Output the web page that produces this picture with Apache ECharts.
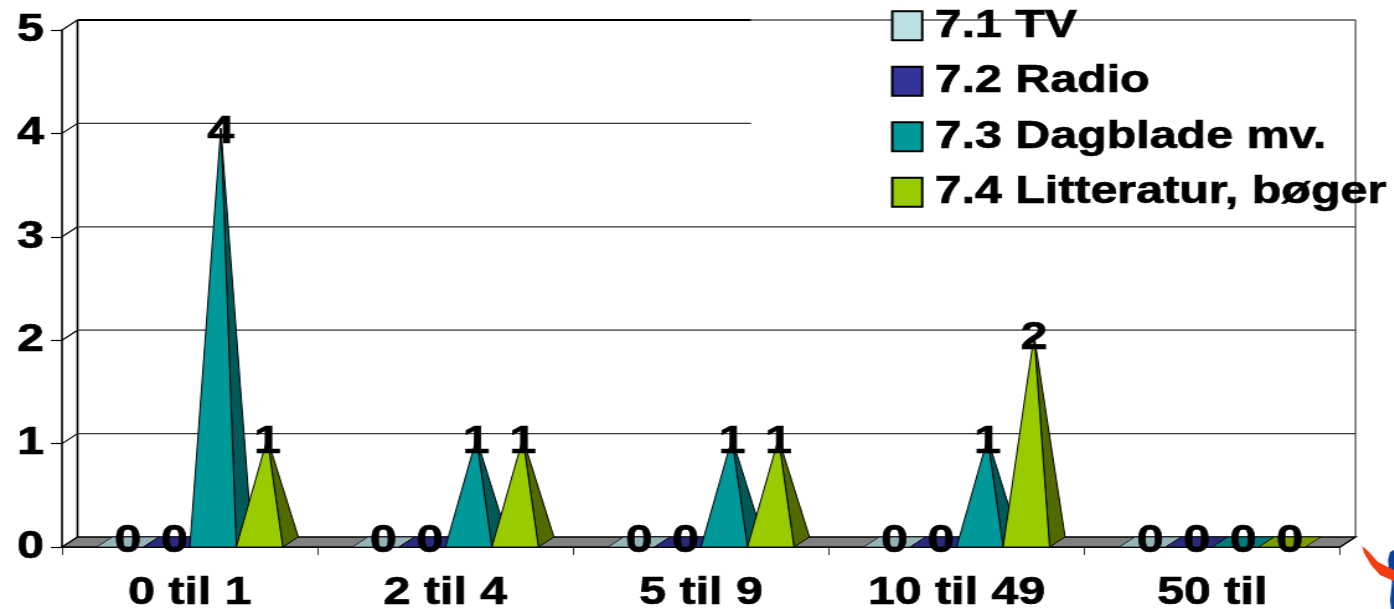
<!DOCTYPE html>
<html><head><meta charset="utf-8">
<style>html,body{margin:0;padding:0;background:#fff;overflow:hidden;width:1394px;height:609px}
#c{position:absolute;left:0;top:0;height:609px;transform-origin:0 0}</style>
<script src="https://cdn.jsdelivr.net/npm/echarts@6/dist/echarts.min.js"></script>
</head><body><div id="c"></div>
<script>
var categories = ['0 til 1','2 til 4','5 til 9','10 til 49','50 til'];
var tv = [0,0,0,0,0];
var radio = [0,0,0,0,0];
var dagblade = [4,1,1,1,0];
var litteratur = [1,1,1,2,0];
var yTicks = [0,1,2,3,4,5];
var seriesNames = ['7.1 TV','7.2 Radio','7.3 Dagblade mv.','7.4 Litteratur, bøger'];
var faceColors = ['#BBE0E3','#333399','#009999','#99CC00'];
var sideColors = ['#7d9799','#22226a','#005a5a','#526b00'];
var flatColors = ['#94b4b7','#29297a','#007a7a','#7a9c00'];

var S = 1.24;                 // whole chart is stretched sideways like the reference
var el = document.getElementById('c');
el.style.width = (1394/S)+'px';
el.style.transform = 'scaleX('+S+')';
function X(v){return v/S;}
var DX = X(15.5), DY = -10, W = X(46.5), FONT = 'Liberation Sans', FS = 39, HEAVY = 0.7;

function pyramid(k){
  return function(params, api){
    var i = api.value(0), v = api.value(1);
    var p0 = api.coord([i,0]), p = api.coord([i,v]);
    var cx = p0[0] + (k-1.5)*W, l = cx-W/2, r = cx+W/2, y0 = p0[1];
    var ax = cx+DX/2, ay = p[1]+DY/2, kids = [];
    var line = {stroke:'#000',lineWidth:1};
    if (v === 0) {
      kids.push({type:'polygon',shape:{points:[[l,y0],[r,y0],[r+DX,y0+DY],[l+DX,y0+DY]]},
        style:{fill:flatColors[k],stroke:'rgba(0,0,0,0.75)',lineWidth:1}});
    } else {
      kids.push({type:'polygon',shape:{points:[[r,y0],[r+DX,y0+DY],[ax,ay]]},style:Object.assign({fill:sideColors[k]},line)});
      kids.push({type:'polygon',shape:{points:[[l,y0],[r,y0],[ax,ay]]},style:Object.assign({fill:faceColors[k]},line)});
    }
    kids.push({type:'text',z2:100,style:{text:String(v),x:ax,y:p[1]+(v===0?-6:-1.5),
      textAlign:'center',textVerticalAlign:'middle',fontFamily:FONT,fontWeight:'bold',fontSize:FS,fill:'#000',stroke:'#000',lineWidth:HEAVY}});
    return {type:'group',children:kids};
  };
}
function walls(params, api){
  var v = api.value(1), c = params.coordSys, y = api.coord([0,v])[1];
  var x0 = c.x, x1 = c.x+c.width, kids = [];
  var stop = X(751), bx1 = x1+DX;
  if (v === 0) {
    kids.push({type:'polygon',shape:{points:[[x0,y],[x0+DX,y+DY],[bx1,y+DY],[x1,y]]},style:{fill:'#808080',stroke:'#000',lineWidth:1.5}});
    kids.push({type:'line',shape:{x1:bx1,y1:y+DY,x2:bx1,y2:c.y+DY},style:{stroke:'#222',lineWidth:1}});
    kids.push({type:'line',shape:{x1:x0+DX,y1:y+DY,x2:x0+DX,y2:c.y+DY},style:{stroke:'#000',lineWidth:1.6}});
    return {type:'group',children:kids};
  }
  kids.push({type:'line',shape:{x1:x0,y1:y,x2:x0+DX,y2:y+DY},style:{stroke:'#000',lineWidth:1.2}});
  if (v === 5) {
    kids.push({type:'line',shape:{x1:x0+DX,y1:y+DY,x2:stop,y2:y+DY},style:{stroke:'#000',lineWidth:2}});
    kids.push({type:'line',shape:{x1:stop,y1:y+DY,x2:bx1,y2:y+DY},style:{stroke:'#555',lineWidth:1.5}});
  } else {
    kids.push({type:'line',shape:{x1:x0+DX,y1:y+DY,x2:v===4?stop:bx1,y2:y+DY},style:{stroke:'#333',lineWidth:1.2}});
  }
  return {type:'group',children:kids};
}
function pts(a){return a.map(function(p){return [X(p[0]),p[1]];});}
var values = [tv,radio,dagblade,litteratur];
var series = [{type:'custom',name:'walls',silent:true,z:1,renderItem:walls,encode:{x:0,y:1},clip:false,
  data:yTicks.map(function(v){return [0,v];})}];
values.forEach(function(arr,k){
  series.push({type:'custom',name:seriesNames[k],z:2+k,renderItem:pyramid(k),encode:{x:0,y:1},clip:false,
    itemStyle:{color:faceColors[k],borderColor:'#000',borderWidth:1},
    data:arr.map(function(v,i){return [i,v];})});
});
var chart = echarts.init(el,null,{width:1394/S,height:609});
var heavy = {textBorderColor:'#000',textBorderWidth:HEAVY};
chart.setOption({
  animation:false,backgroundColor:'#fff',
  grid:{left:X(62),right:X(1394-1340),top:30,bottom:609-547,containLabel:false,outerBoundsMode:'none'},
  xAxis:{type:'category',data:categories,boundaryGap:true,
    axisLine:{show:true,lineStyle:{color:'#000',width:1.5}},
    axisTick:{show:true,length:8,alignWithLabel:false,lineStyle:{color:'#333',width:1}},
    axisLabel:Object.assign({interval:0,margin:27,color:'#000',fontFamily:FONT,fontWeight:'bold',fontSize:FS},heavy),
    splitLine:{show:false}},
  yAxis:{type:'value',min:0,max:5,interval:1,
    axisLine:{show:true,lineStyle:{color:'#000',width:1.6}},
    axisTick:{show:true,length:X(11),lineStyle:{color:'#000',width:1.2}},
    axisLabel:Object.assign({margin:X(18),padding:[5,0,0,0],color:'#000',fontFamily:FONT,fontWeight:'bold',fontSize:FS},heavy),
    splitLine:{show:false}},
  legend:{data:seriesNames.map(function(n){return {name:n,icon:'rect'};}),orient:'vertical',left:X(891),top:6,padding:0,
    itemWidth:X(30),itemHeight:29,itemGap:15.8,selectedMode:false,
    textStyle:Object.assign({color:'#000',fontFamily:FONT,fontWeight:'bold',fontSize:FS,lineHeight:29,padding:[6,0,0,5]},heavy)},
  graphic:[
    {type:'polygon',silent:true,shape:{points:pts([[1394,550],[1390,552],[1388,560],[1389,572],[1392,582],[1390,600],[1391,609],[1394,609]])},style:{fill:'#0c3f9c'}},
    {type:'polygon',silent:true,shape:{points:pts([[1362,546],[1368,551],[1378,562],[1394,570],[1394,581],[1380,575],[1371,565],[1364,553]])},style:{fill:'#f23c12'}}
  ],
  series:series
});
</script></body></html>
